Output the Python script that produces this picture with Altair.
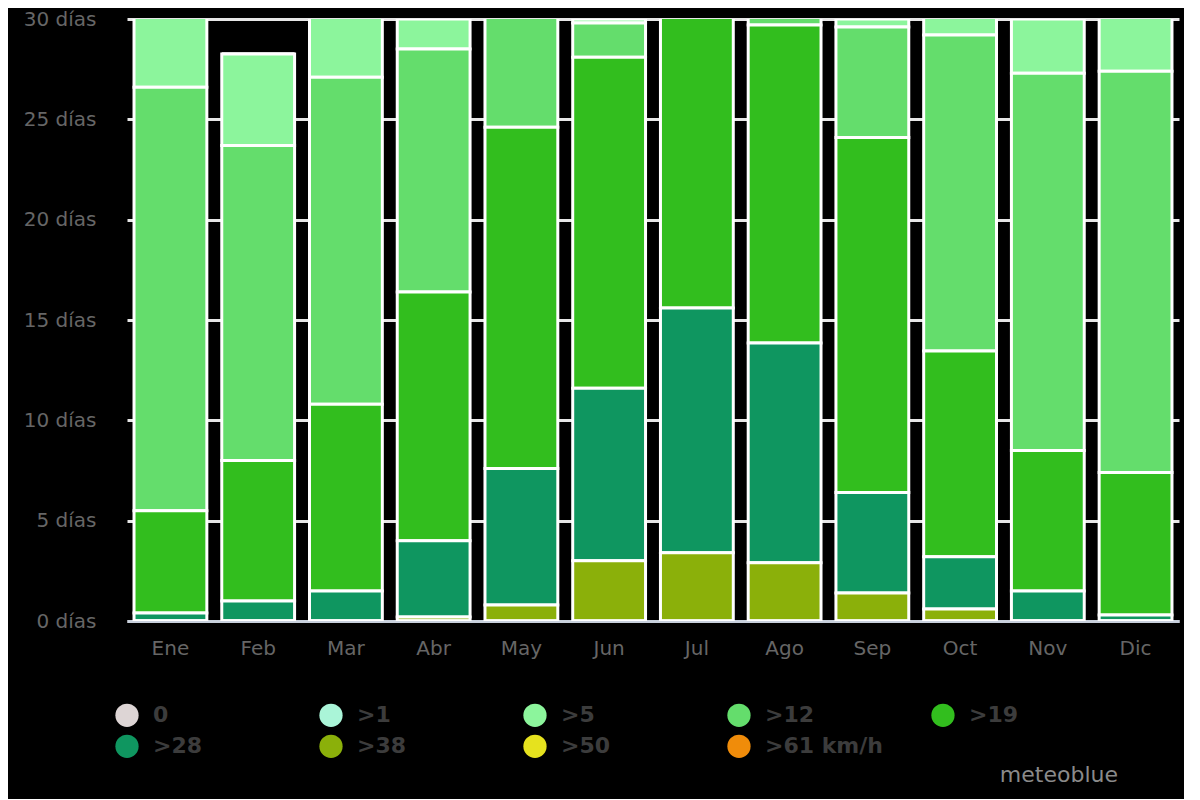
import altair as alt
import pandas as pd

months = ["Ene", "Feb", "Mar", "Abr", "May", "Jun", "Jul", "Ago", "Sep", "Oct", "Nov", "Dic"]
classes = ["0", ">1", ">5", ">12", ">19", ">28", ">38", ">50", ">61 km/h"]
colors = ["#ddd5d5", "#aaf5d8", "#8cf59c", "#64dd6c", "#32be1e", "#0f9660", "#8bb00a", "#e6e21e", "#f08c0a"]

# days per month in each wind class (stacked: strongest at the bottom)
d_0 = [0, 0, 0, 0, 0, 0, 0, 0, 0, 0, 0, 0]
d_1 = [0, 0, 0, 0, 0, 0, 0, 0, 0, 0, 0, 0]
d_5 = [4.4, 4.55, 3.9, 1.5, 0.0, 0.2, 0.0, 0.0, 0.4, 1.8, 2.7, 3.6]
d_12 = [21.1, 15.7, 16.3, 12.1, 6.4, 1.7, 0.0, 1.3, 5.5, 15.75, 18.8, 20.0]
d_19 = [5.1, 7.0, 9.3, 12.4, 17.0, 16.5, 15.4, 15.85, 17.7, 10.25, 7.0, 7.1]
d_28 = [0.4, 1.0, 1.5, 3.8, 6.8, 8.6, 12.2, 10.95, 5.0, 2.6, 1.5, 0.3]
d_38 = [0.0, 0.0, 0.0, 0.2, 0.8, 3.0, 3.4, 2.9, 1.4, 0.6, 0.0, 0.0]
d_50 = [0, 0, 0, 0, 0, 0, 0, 0, 0, 0, 0, 0]
d_61 = [0, 0, 0, 0, 0, 0, 0, 0, 0, 0, 0, 0]

series = [d_0, d_1, d_5, d_12, d_19, d_28, d_38, d_50, d_61]

rows = []
for ci, (cls, vals) in enumerate(zip(classes, series)):
    for mi, m in enumerate(months):
        rows.append({"month": m, "cls": cls, "days": vals[mi], "rank": len(classes) - ci})
df = pd.DataFrame(rows)

leg = pd.DataFrame({
    "cls": classes,
    "col": [i % 5 for i in range(len(classes))],
    "row": [i // 5 for i in range(len(classes))],
})

FONT = "DejaVu Sans"

color_scale = alt.Scale(domain=classes, range=colors)

bars = alt.Chart(df).mark_bar(stroke="white", strokeWidth=3, clip=True).encode(
    x=alt.X("month:N", sort=months, title=None,
            scale=alt.Scale(paddingInner=0.17, paddingOuter=0.08),
            axis=alt.Axis(labelAngle=0, labelColor="#666666", labelFontSize=20, labelFont=FONT,
                          ticks=False, labelPadding=17, domainColor="#c8d0dc", domainWidth=3,
                          grid=False)),
    y=alt.Y("days:Q", stack="zero", title=None,
            scale=alt.Scale(domain=[0, 30], nice=False),
            axis=alt.Axis(values=[0, 5, 10, 15, 20, 25, 30], labelExpr="datum.value + ' días'",
                          labelColor="#666666", labelFontSize=20, labelFont=FONT, ticks=False,
                          domain=False, labelPadding=31, grid=True, gridColor="#e6e6e6",
                          gridWidth=3)),
    color=alt.Color("cls:N", scale=color_scale, legend=None),
    order=alt.Order("rank:Q", sort="ascending"),
).properties(width=1052, height=602)

base = alt.Chart(leg).encode(
    x=alt.X("col:Q", scale=alt.Scale(domain=[-0.0, 5.157], nice=False, zero=False), axis=None),
    y=alt.Y("row:Q", scale=alt.Scale(domain=[-0.3, 2.7], nice=False, zero=False, reverse=True),
            axis=None),
)
dots = base.mark_circle(size=540, opacity=1).encode(
    color=alt.Color("cls:N", scale=color_scale, legend=None))
labels = base.mark_text(align="left", baseline="middle", dx=26, fontSize=22, font=FONT,
                        fontWeight="bold", color="#3c3c3c").encode(text="cls:N")
legend = (dots + labels).properties(width=1052, height=93)

chart = alt.vconcat(bars, legend, spacing=45).properties(
    background="black",
    padding={"left": 15, "top": 1, "right": 5, "bottom": 0},
    title=alt.TitleParams("meteoblue", orient="bottom", anchor="end", color="#8a8a8a",
                          fontSize=22, font=FONT, fontWeight="normal", dx=-61, offset=-34),
).configure_view(stroke=None)

chart.save("out.html", embed_options={"renderer": "svg", "actions": False})
